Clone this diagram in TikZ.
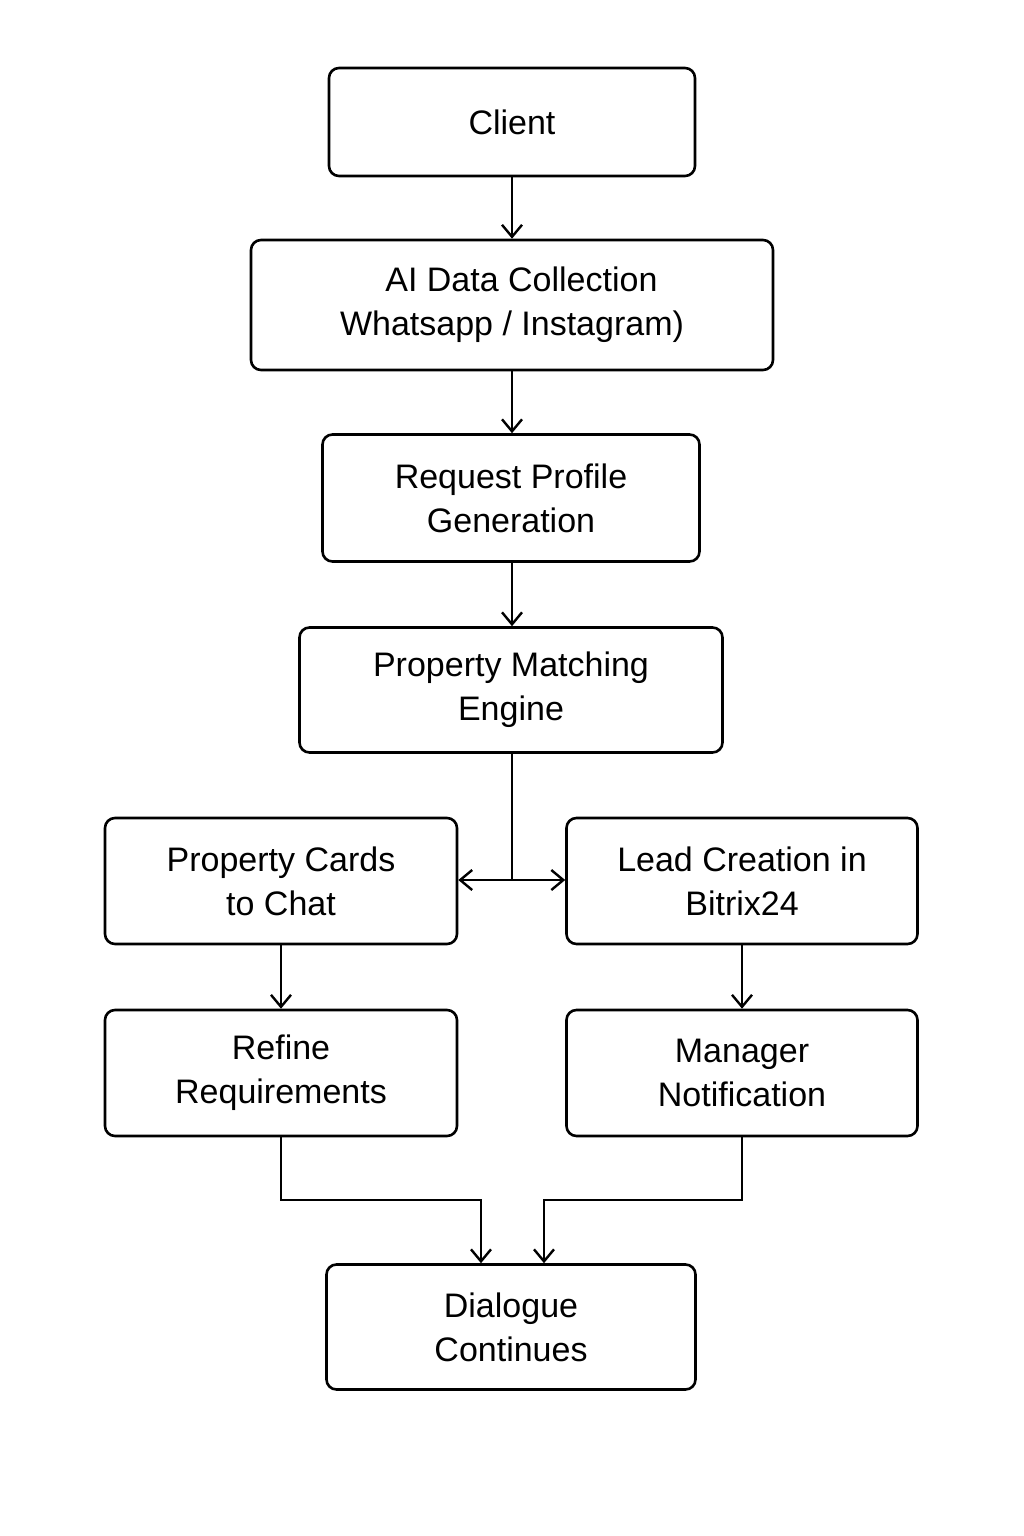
\documentclass[tikz,border=0pt]{standalone}
\usepackage{fontspec}
\setmainfont{Liberation Sans}
\usetikzlibrary{arrows.meta}
\begin{document}
\begin{tikzpicture}[x=1pt,y=-1pt,
 box/.style={draw,line width=2.6pt,rounded corners=10pt,align=center,inner sep=0pt,
   font=\fontsize{34}{44}\selectfont},
 arr/.style={line width=2.4pt,-{Straight Barb[length=12pt,width=20pt,line width=2.4pt]}}]
\useasboundingbox (0,0) rectangle (1024,1536);
\node[box,minimum width=366pt,minimum height=108pt] (c) at (512,122) {Client};
\node[box,minimum width=522pt,minimum height=130pt] (ai) at (512,305) {\ \ AI Data Collection\\Whatsapp / Instagram)};
\node[box,minimum width=377pt,minimum height=127pt] (rp) at (511,498) {Request Profile\\Generation};
\node[box,minimum width=423pt,minimum height=125pt] (pm) at (511,690) {Property Matching\\Engine};
\node[box,minimum width=352pt,minimum height=126pt] (pc) at (281,881) {Property Cards\\to Chat};
\node[box,minimum width=351pt,minimum height=126pt] (lc) at (742,881) {Lead Creation in\\Bitrix24};
\node[box,minimum width=352pt,minimum height=126pt] (rr) at (281,1073) {Refine\\Requirements};
\node[box,minimum width=351pt,minimum height=126pt] (mn) at (742,1073) {Manager\\Notification};
\node[box,minimum width=369pt,minimum height=125pt] (dc) at (511,1327) {Dialogue\\Continues};
\coordinate (j) at (512,880);
\draw[arr] (c.south -| 512,0) -- (ai.north -| 512,0);
\draw[arr] (ai.south -| 512,0) -- (rp.north -| 512,0);
\draw[arr] (rp.south -| 512,0) -- (pm.north -| 512,0);
\draw[line width=2.4pt] (pm.south -| j) -- (j);
\draw[arr] (j) -- (pc.east |- j);
\draw[arr] (j) -- (lc.west |- j);
\draw[arr] (pc.south) -- (rr.north);
\draw[arr] (lc.south) -- (mn.north);
\draw[arr] (rr.south) -- (281,1200) -- (481,1200) -- (dc.north -| 481,0);
\draw[arr] (mn.south) -- (742,1200) -- (544,1200) -- (dc.north -| 544,0);
\end{tikzpicture}
\end{document}
